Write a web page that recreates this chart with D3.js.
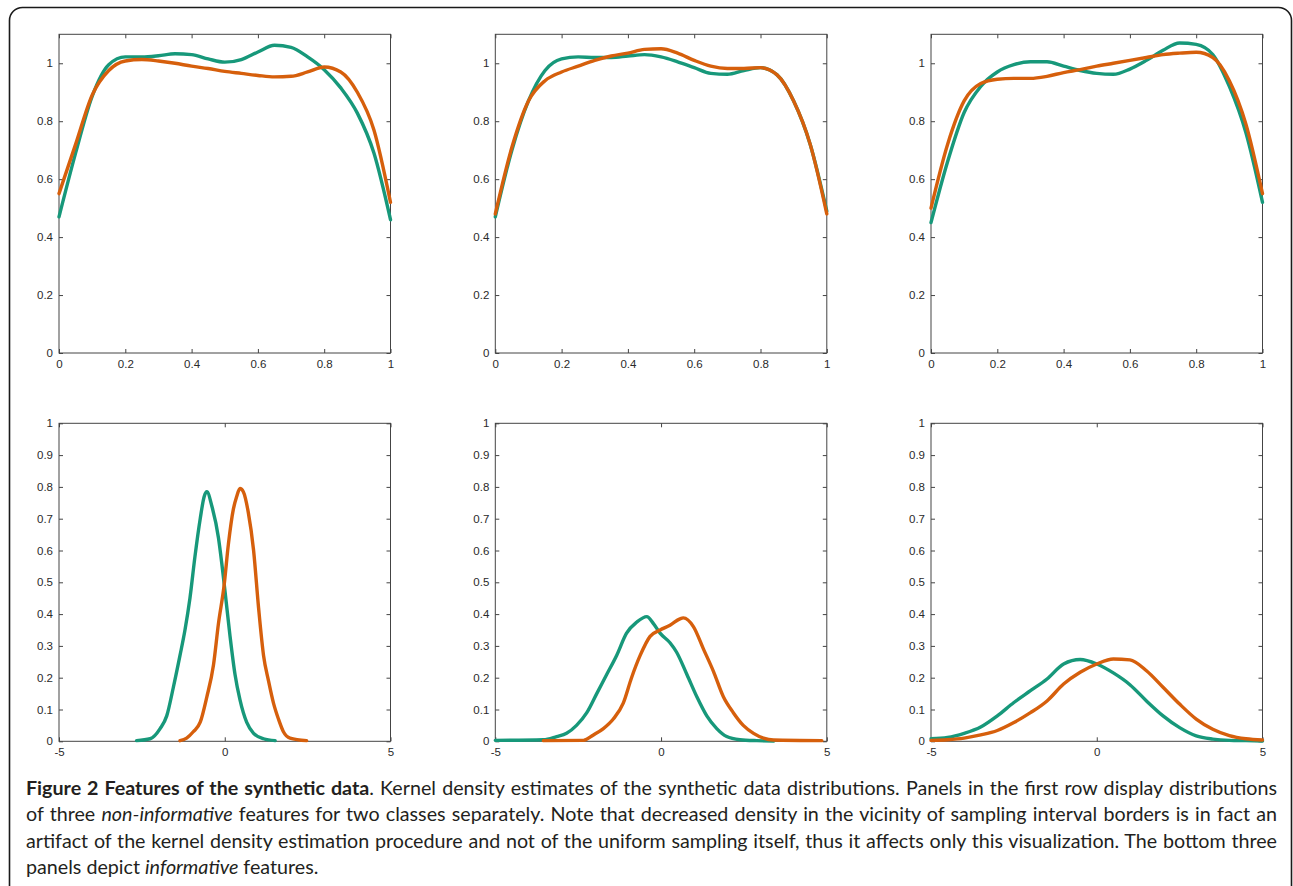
<!DOCTYPE html>
<html>
<head>
<meta charset="utf-8">
<script src="https://cdn.jsdelivr.net/npm/d3@7"></script>
<style>
    body { margin: 0; background: #fff; }
    svg { display: block; }
</style>
</head>
<body>
<div id="figure"></div>
<script>

// kernel density estimates
// top row: uniform features sampled on [0,1]
var uniformX = [0, 0.05, 0.1, 0.15, 0.2, 0.25, 0.3, 0.35, 0.4, 0.45, 0.5, 0.55, 0.6, 0.65, 0.7, 0.75, 0.8, 0.85, 0.9, 0.95, 1];

var uni1Green  = [0.47, 0.69, 0.886, 0.995, 1.022, 1.022, 1.026, 1.033, 1.03, 1.015, 1.004, 1.013, 1.039, 1.062, 1.055, 1.022, 0.978, 0.915, 0.828, 0.69, 0.46];
var uni1Orange = [0.55, 0.72, 0.89, 0.975, 1.008, 1.013, 1.008, 1.0, 0.99, 0.982, 0.972, 0.965, 0.958, 0.953, 0.955, 0.97, 0.987, 0.97, 0.9, 0.77, 0.52];

var uni2Green  = [0.47, 0.7, 0.87, 0.975, 1.015, 1.022, 1.02, 1.02, 1.025, 1.03, 1.022, 1.005, 0.985, 0.965, 0.962, 0.975, 0.985, 0.96, 0.87, 0.72, 0.49];
var uni2Orange = [0.48, 0.71, 0.87, 0.94, 0.97, 0.99, 1.01, 1.025, 1.035, 1.048, 1.05, 1.035, 1.01, 0.99, 0.982, 0.982, 0.985, 0.96, 0.87, 0.72, 0.48];

var uni3Green  = [0.45, 0.66, 0.83, 0.92, 0.97, 0.995, 1.005, 1.005, 0.99, 0.975, 0.965, 0.962, 0.98, 1.01, 1.045, 1.07, 1.065, 1.03, 0.92, 0.76, 0.52];
var uni3Orange = [0.5, 0.72, 0.87, 0.93, 0.945, 0.948, 0.948, 0.955, 0.968, 0.978, 0.99, 1.0, 1.01, 1.02, 1.03, 1.035, 1.038, 1.02, 0.94, 0.79, 0.55];

// bottom row: informative (normal) features
var norm1GreenX  = [-2.66, -2.25, -1.95, -1.75, -1.55, -1.35, -1.2, -1.05, -0.9, -0.74, -0.62, -0.54, -0.39, -0.19, -0.09, 0.01, 0.16, 0.31, 0.46, 0.66, 0.87, 1.17, 1.52];
var norm1GreenY  = [0.002, 0.008, 0.04, 0.08, 0.17, 0.27, 0.35, 0.45, 0.58, 0.7, 0.77, 0.785, 0.74, 0.64, 0.56, 0.47, 0.33, 0.21, 0.13, 0.06, 0.025, 0.008, 0.002];
var norm1OrangeX = [-1.35, -1.15, -0.95, -0.74, -0.54, -0.34, -0.19, -0.02, 0.11, 0.26, 0.36, 0.46, 0.56, 0.71, 0.87, 1.02, 1.17, 1.32, 1.47, 1.62, 1.77, 1.97, 2.47];
var norm1OrangeY = [0.002, 0.01, 0.03, 0.06, 0.14, 0.24, 0.37, 0.49, 0.62, 0.73, 0.77, 0.795, 0.785, 0.72, 0.6, 0.42, 0.27, 0.19, 0.12, 0.07, 0.03, 0.01, 0.002];

var norm2GreenX  = [-5, -3.55, -3.15, -2.85, -2.55, -2.24, -1.94, -1.64, -1.34, -1.04, -0.73, -0.43, -0.23, -0.03, 0.27, 0.47, 0.78, 1.08, 1.38, 1.68, 1.98, 2.38, 2.89, 3.4];
var norm2GreenY  = [0.003, 0.005, 0.015, 0.025, 0.05, 0.09, 0.15, 0.21, 0.27, 0.34, 0.375, 0.392, 0.37, 0.34, 0.31, 0.28, 0.21, 0.14, 0.08, 0.04, 0.015, 0.005, 0.002, 0.001];
var norm2OrangeX = [-3.55, -2.34, -2.04, -1.74, -1.44, -1.14, -0.89, -0.63, -0.33, -0.03, 0.27, 0.57, 0.67, 0.98, 1.28, 1.58, 1.88, 2.18, 2.48, 2.79, 3.09, 3.39, 4.85];
var norm2OrangeY = [0.002, 0.003, 0.02, 0.04, 0.07, 0.12, 0.2, 0.27, 0.33, 0.35, 0.365, 0.385, 0.388, 0.36, 0.29, 0.22, 0.14, 0.09, 0.05, 0.025, 0.01, 0.004, 0.002];

var norm3X       = [-5, -4.5, -4, -3.5, -3, -2.5, -2, -1.5, -1, -0.5, 0, 0.5, 1, 1.5, 2, 2.5, 3, 3.5, 4, 4.5, 5];
var norm3Green   = [0.008, 0.012, 0.025, 0.045, 0.08, 0.122, 0.159, 0.196, 0.243, 0.257, 0.243, 0.215, 0.178, 0.127, 0.08, 0.043, 0.017, 0.007, 0.003, 0.002, 0.001];
var norm3Orange  = [0.003, 0.005, 0.01, 0.02, 0.034, 0.059, 0.09, 0.127, 0.18, 0.217, 0.243, 0.259, 0.256, 0.222, 0.17, 0.117, 0.07, 0.038, 0.018, 0.008, 0.004];

// tick labels
var topXTicks = [0, 0.2, 0.4, 0.6, 0.8, 1];
var topYTicks = [0, 0.2, 0.4, 0.6, 0.8, 1];
var bottomXTicks = [-5, 0, 5];
var bottomYTicks = [0, 0.1, 0.2, 0.3, 0.4, 0.5, 0.6, 0.7, 0.8, 0.9, 1];

var green = "#17987a", orange = "#d65f0c";

var captionLines = [
    [["b", "Figure 2 Features of the synthetic data"], ["", ". Kernel density estimates of the synthetic data distributions. Panels in the first row display distributions"]],
    [["", "of three "], ["i", "non-informative"], ["", " features for two classes separately. Note that decreased density in the vicinity of sampling interval borders is in fact an"]],
    [["", "artifact of the kernel density estimation procedure and not of the uniform sampling itself, thus it affects only this visualization. The bottom three"]],
    [["", "panels depict "], ["i", "informative"], ["", " features."]]
];

function zip(xs, ys) {
    return xs.map(function(x, i) { return {x: x, y: ys[i]}; });
}

var W = 1293, H = 886;
var svg = d3.select("#figure").append("svg")
    .attr("width", W)
    .attr("height", H);

svg.append("rect")
    .attr("x", 9.5).attr("y", 7.5)
    .attr("width", 1282).attr("height", 900)
    .attr("rx", 13)
    .attr("fill", "none")
    .attr("stroke", "#1a1a1a")
    .attr("stroke-width", 1.6);

/*
 * DensityPanel - one MATLAB-style box with two density curves
 */
DensityPanel = function(_left, _top, _width, _height, _config) {
    this.left = _left;
    this.top = _top;
    this.width = _width;
    this.height = _height;
    this.config = _config;
    this.initVis();
}

DensityPanel.prototype.initVis = function() {
    var vis = this;
    var c = vis.config;

    vis.g = svg.append("g").attr("transform", "translate(" + vis.left + "," + vis.top + ")");

    vis.x = d3.scaleLinear().domain(c.xDomain).range([0, vis.width]);
    vis.y = d3.scaleLinear().domain(c.yDomain).range([vis.height, 0]);

    var fmt = function(d) { return String(d); };

    vis.g.append("g").attr("class", "axis")
        .attr("transform", "translate(0," + vis.height + ")")
        .call(d3.axisBottom(vis.x).tickValues(c.xTicks).tickFormat(fmt).tickSizeInner(-4).tickSizeOuter(0).tickPadding(7));
    vis.g.append("g").attr("class", "axis")
        .call(d3.axisTop(vis.x).tickValues(c.xTicks).tickFormat("").tickSizeInner(-4).tickSizeOuter(0));
    vis.g.append("g").attr("class", "axis")
        .call(d3.axisLeft(vis.y).tickValues(c.yTicks).tickFormat(fmt).tickSizeInner(-4).tickSizeOuter(0).tickPadding(6));
    vis.g.append("g").attr("class", "axis")
        .attr("transform", "translate(" + vis.width + ",0)")
        .call(d3.axisRight(vis.y).tickValues(c.yTicks).tickFormat("").tickSizeInner(-4).tickSizeOuter(0));

    vis.g.selectAll(".axis .domain").remove();
    vis.g.selectAll(".axis line").attr("stroke", "#444");
    vis.g.selectAll(".axis text")
        .attr("fill", "#2a2a2a")
        .style("font-family", "'Liberation Sans', Arial, sans-serif")
        .style("font-size", "11.5px");

    vis.g.append("rect")
        .attr("width", vis.width).attr("height", vis.height)
        .attr("fill", "none")
        .attr("stroke", "#444")
        .attr("stroke-width", 1);

    this.updateVis();
}

DensityPanel.prototype.updateVis = function() {
    var vis = this;

    var line = d3.line()
        .x(function(d) { return vis.x(d.x); })
        .y(function(d) { return vis.y(d.y); })
        .curve(d3.curveMonotoneX);

    vis.g.selectAll(".density")
        .data(vis.config.series)
        .enter()
        .append("path")
        .attr("class", "density")
        .attr("d", function(s) { return line(s.values); })
        .attr("fill", "none")
        .attr("stroke", function(s) { return s.color; })
        .attr("stroke-width", 3.4)
        .attr("stroke-linejoin", "round")
        .attr("stroke-linecap", "round");
}

var colLeft = [59, 495.3, 931];
var colWidth = 331.5;
var rowTop = [34.3, 423.3];
var rowHeight = [318.7, 318];

var topSeries = [
    [uni1Green, uni1Orange],
    [uni2Green, uni2Orange],
    [uni3Green, uni3Orange]
];
topSeries.forEach(function(pair, i) {
    new DensityPanel(colLeft[i], rowTop[0], colWidth, rowHeight[0], {
        xDomain: [0, 1], yDomain: [0, 1.1],
        xTicks: topXTicks, yTicks: topYTicks,
        series: [
            {color: green, values: zip(uniformX, pair[0])},
            {color: orange, values: zip(uniformX, pair[1])}
        ]
    });
});

var bottomSeries = [
    [zip(norm1GreenX, norm1GreenY), zip(norm1OrangeX, norm1OrangeY)],
    [zip(norm2GreenX, norm2GreenY), zip(norm2OrangeX, norm2OrangeY)],
    [zip(norm3X, norm3Green), zip(norm3X, norm3Orange)]
];
bottomSeries.forEach(function(pair, i) {
    new DensityPanel(colLeft[i], rowTop[1], colWidth, rowHeight[1], {
        xDomain: [-5, 5], yDomain: [0, 1],
        xTicks: bottomXTicks, yTicks: bottomYTicks,
        series: [
            {color: green, values: pair[0]},
            {color: orange, values: pair[1]}
        ]
    });
});

// caption, justified line by line
var capLeft = 26, capRight = 1277, capTop = 795, capLead = 26.4;
var caption = svg.append("g")
    .style("font-family", "Lato, 'Open Sans', sans-serif")
    .style("font-size", "17px")
    .attr("fill", "#231f20");

var capTexts = captionLines.map(function(parts, i) {
    var t = caption.append("text")
        .attr("x", capLeft)
        .attr("y", capTop + i * capLead);
    parts.forEach(function(p) {
        t.append("tspan")
            .style("font-weight", p[0] === "b" ? "bold" : null)
            .style("font-style", p[0] === "i" ? "italic" : null)
            .text(p[1]);
    });
    return t;
});

// grow the font until the fullest line nearly fills the column
var widest = d3.max(capTexts.slice(0, 3), function(t) { return t.node().getComputedTextLength(); });
caption.style("font-size", (17 * (capRight - capLeft - 14) / widest) + "px");

capTexts.slice(0, 3).forEach(function(t, i) {
    var natural = t.node().getComputedTextLength();
    var spaces = captionLines[i].map(function(p) { return p[1]; }).join("").split(" ").length - 1;
    t.attr("word-spacing", (capRight - capLeft - natural) / spaces);
});

</script>
</body>
</html>
